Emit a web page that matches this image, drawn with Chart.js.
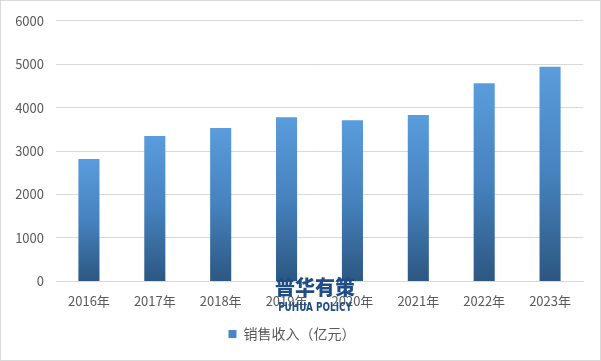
<!DOCTYPE html>
<html><head><meta charset="utf-8">
<script src="https://cdn.jsdelivr.net/npm/chart.js@4.4.0/dist/chart.umd.min.js"></script>
<style>
html,body{margin:0;padding:0;background:#fff;}
#wrap{position:absolute;left:0;top:0;width:599px;height:359px;border:1px solid #d9d9d9;background:#fff;}
</style></head>
<body><div id="wrap"><canvas id="c" width="599" height="359"></canvas></div>
<script>
const categories = ["2016年","2017年","2018年","2019年","2020年","2021年","2022年","2023年"];
const salesRevenue = [2820, 3350, 3530, 3780, 3710, 3830, 4560, 4940];
const seriesLabel = "销售收入（亿元）";
const yTicks = [0,1000,2000,3000,4000,5000,6000];

const FONT = '"Noto Sans CJK SC","Microsoft YaHei",sans-serif';

function barGradient(ctx){
  const chart = ctx.chart;
  const area = chart.chartArea;
  if(!area || ctx.type !== 'data') return '#4f8fcf';
  const ys = chart.scales.y;
  const top = ys.getPixelForValue(ctx.raw);
  const bot = ys.getPixelForValue(0);
  const g = chart.ctx.createLinearGradient(0, top, 0, bot);
  g.addColorStop(0, '#5a9cdc');
  g.addColorStop(0.5, '#4682be');
  g.addColorStop(1, '#2c5781');
  return g;
}

const watermark = {
  id:'watermark',
  afterDraw(chart){
    const c = chart.ctx;
    c.save();
    c.fillStyle = '#1f4e86';
    c.textAlign = 'center';
    c.textBaseline = 'middle';
    c.font = '900 20px ' + FONT;
    c.fillText('普华有策', 314, 286);
    c.font = 'bold 12px "DejaVu Sans Condensed","Liberation Sans Narrow",sans-serif';
    c.save();
    c.translate(314, 307);
    c.scale(0.82, 1);
    c.fillText('PUHUA POLICY', 0, 0);
    c.restore();
    c.restore();
  }
};

new Chart(document.getElementById('c'), {
  type:'bar',
  data:{
    labels: categories,
    datasets:[{
      label: seriesLabel,
      data: salesRevenue,
      backgroundColor: barGradient,
      borderWidth:0,
      categoryPercentage:1.0,
      barPercentage:0.32
    }]
  },
  options:{
    responsive:false,
    animation:false,
    devicePixelRatio:1,
    layout:{padding:{top:6,right:17,left:0,bottom:9}},
    plugins:{
      legend:{
        position:'bottom',
        labels:{
          boxWidth:8, boxHeight:8,
          color:'#595959',
          font:{family:FONT,size:14},
          padding:14,
          generateLabels(chart){
            return [{text: seriesLabel, fillStyle:'#4a86c5', strokeStyle:'#4a86c5', lineWidth:0, fontColor:'#595959', datasetIndex:0}];
          }
        }
      },
      tooltip:{enabled:false}
    },
    scales:{
      x:{
        grid:{display:false},
        border:{display:true,color:'#d9d9d9'},
        ticks:{color:'#595959',font:{family:FONT,size:13},padding:4,maxRotation:0}
      },
      y:{
        min:0,max:6000,
        afterBuildTicks(axis){ axis.ticks = yTicks.map(v=>({value:v})); },
        afterFit(axis){ axis.width = 55; },
        grid:{color:'#d9d9d9',drawTicks:false},
        border:{display:false},
        ticks:{color:'#595959',font:{family:FONT,size:13},padding:12,callback:(v)=>String(v)}
      }
    }
  },
  plugins:[watermark]
});
</script></body></html>
